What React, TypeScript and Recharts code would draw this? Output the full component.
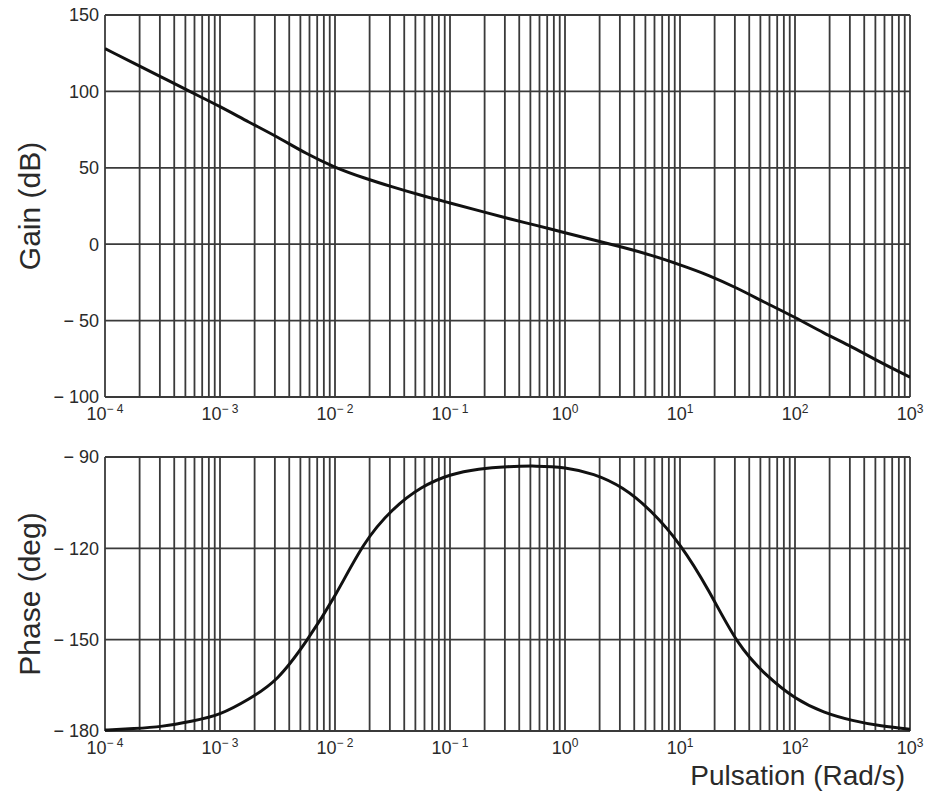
import React from "react";
import {
  LineChart,
  Line,
  XAxis,
  YAxis,
  CartesianGrid,
} from "recharts";

// pulsation (rad/s), quarter-decade steps from 1e-4 to 1e3
const pulsation = [
  0.0001, 0.0001778, 0.0003162, 0.0005623,
  0.001, 0.001778, 0.003162, 0.005623,
  0.01, 0.01778, 0.03162, 0.05623,
  0.1, 0.1778, 0.3162, 0.5623,
  1, 1.778, 3.162, 5.623,
  10, 17.78, 31.62, 56.23,
  100, 177.8, 316.2, 562.3,
  1000,
];

const gainDb = [
  128, 118.5, 109, 99.5,
  90, 80, 70, 59.5,
  50.5, 43.5, 37.5, 32,
  27, 22, 17, 12.3,
  7.5, 2.8, -2, -7.3,
  -13.5, -20.5, -29, -38.5,
  -48, -58, -67.5, -77.5,
  -87,
];

const phaseDeg = [
  -179.7, -179.2, -178.4, -176.8,
  -174.3, -169.5, -162.5, -150.5,
  -135.5, -119, -107.5, -100.2,
  -96, -94, -93.2, -93,
  -93.6, -95.8, -100.3, -108,
  -119, -134, -150.5, -161.5,
  -169, -173.7, -176.5, -178.3,
  -179.4,
];

const decades = [0.0001, 0.001, 0.01, 0.1, 1, 10, 100, 1000];
const gainTicks = [-100, -50, 0, 50, 100, 150];
const phaseTicks = [-180, -150, -120, -90];

const data = pulsation.map((w, i) => ({ w, gain: gainDb[i], phase: phaseDeg[i] }));

// every 1..9 x decade for the log grid
const xTicks: number[] = [];
decades.forEach((d, i) => {
  if (i === decades.length - 1) {
    xTicks.push(d);
    return;
  }
  for (let k = 1; k <= 9; k++) xTicks.push(k * d);
});

const FONT = '"Liberation Sans", Arial, Helvetica, sans-serif';
const TEXT = "#2a2a2a";
const GRID = "#3a3a3a";

const fmtY = (v: number) => (v < 0 ? `\u2212 ${-v}` : `${v}`);

const XTick = (props: any) => {
  const { x, y, payload } = props;
  const lg = Math.log10(payload.value);
  const exp = Math.round(lg);
  if (Math.abs(lg - exp) > 1e-6) return <g />;
  return (
    <text x={x} y={y + 15} textAnchor="middle" fill={TEXT} fontFamily={FONT} fontSize={18}>
      <tspan>10</tspan>
      <tspan dy={-7} fontSize={12}>
        {exp < 0 ? `\u2212 ${-exp}` : `${exp}`}
      </tspan>
    </text>
  );
};

const YTitle = (props: any) => {
  const vb = props.viewBox || { y: 0, height: 0 };
  const cx = 29;
  const cy = vb.y + vb.height / 2;
  return (
    <text
      x={cx}
      y={cy}
      transform={`rotate(-90 ${cx} ${cy})`}
      textAnchor="middle"
      dominantBaseline="central"
      fill={TEXT}
      fontFamily={FONT}
      fontSize={30}
    >
      {props.text}
    </text>
  );
};

const XTitle = (props: any) => {
  const vb = props.viewBox || { x: 0, y: 0, width: 0 };
  return (
    <text
      x={vb.x + vb.width - 5}
      y={vb.y + 54}
      textAnchor="end"
      fill={TEXT}
      fontFamily={FONT}
      fontSize={28}
    >
      Pulsation (Rad/s)
    </text>
  );
};

export default function App() {
  return (
    <div style={{ position: "absolute", left: 0, top: 0, width: 925, height: 793, background: "#fff" }}>
      <div style={{ position: "absolute", left: 0, top: 0 }}>
        <LineChart width={925} height={440} data={data} margin={{ top: 15, right: 15, bottom: 13, left: 0 }}>
          <CartesianGrid stroke={GRID} strokeWidth={1.8} />
          <XAxis
            dataKey="w"
            type="number"
            scale="log"
            domain={[0.0001, 1000]}
            allowDataOverflow
            ticks={xTicks}
            interval={0}
            tick={<XTick />}
            axisLine={false}
            tickLine={false}
            height={30}
          />
          <YAxis
            type="number"
            domain={[-100, 150]}
            ticks={gainTicks}
            interval={0}
            tickFormatter={fmtY}
            tick={{ fill: TEXT, fontSize: 18, fontFamily: FONT }}
            tickMargin={0}
            axisLine={false}
            tickLine={false}
            width={105}
            label={<YTitle text="Gain (dB)" />}
          />
          <Line
            type="natural"
            dataKey="gain"
            stroke="#111"
            strokeWidth={3}
            dot={false}
            isAnimationActive={false}
          />
        </LineChart>
      </div>
      <div style={{ position: "absolute", left: 0, top: 440 }}>
        <LineChart width={925} height={353} data={data} margin={{ top: 17, right: 15, bottom: 32, left: 0 }}>
          <CartesianGrid stroke={GRID} strokeWidth={1.8} />
          <XAxis
            dataKey="w"
            type="number"
            scale="log"
            domain={[0.0001, 1000]}
            allowDataOverflow
            ticks={xTicks}
            interval={0}
            tick={<XTick />}
            axisLine={false}
            tickLine={false}
            height={30}
            label={<XTitle />}
          />
          <YAxis
            type="number"
            domain={[-180, -90]}
            ticks={phaseTicks}
            interval={0}
            tickFormatter={fmtY}
            tick={{ fill: TEXT, fontSize: 18, fontFamily: FONT }}
            tickMargin={0}
            axisLine={false}
            tickLine={false}
            width={105}
            label={<YTitle text="Phase (deg)" />}
          />
          <Line
            type="natural"
            dataKey="phase"
            stroke="#111"
            strokeWidth={3}
            dot={false}
            isAnimationActive={false}
          />
        </LineChart>
      </div>
    </div>
  );
}
